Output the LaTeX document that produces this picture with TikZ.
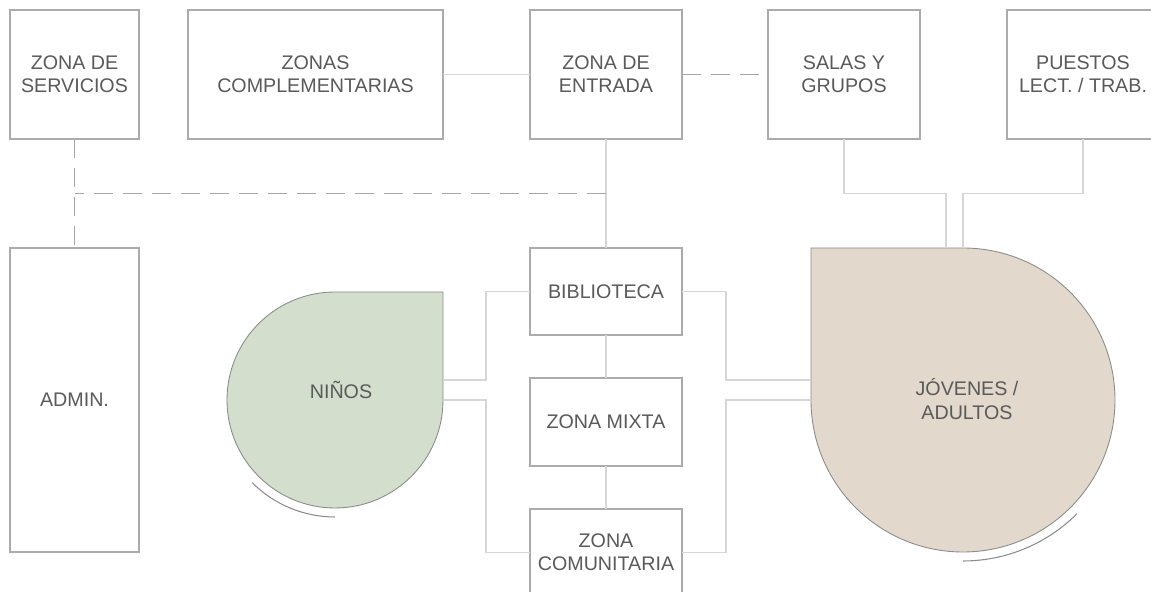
\documentclass[tikz,border=0pt]{standalone}
\usepackage{fontspec}
\setmainfont{Liberation Sans}
\usepackage{tikz}
\usetikzlibrary{positioning}
\definecolor{boxgray}{HTML}{ABABAB}
\definecolor{linkgray}{HTML}{D6D6D6}
\definecolor{dashgray}{HTML}{A6A6A6}
\definecolor{textgray}{HTML}{5A5A5A}
\definecolor{shapegray}{HTML}{8C8C8C}
\definecolor{ninosgreen}{HTML}{D3DECD}
\definecolor{jovenesbeige}{HTML}{E2D8CB}
\tikzset{
    zone/.style={draw=boxgray, line width=0.8pt, fill=white, outer sep=0pt, inner sep=0pt,
        align=center, text=textgray, font=\fontsize{11.2pt}{13.2pt}\selectfont},
    areatext/.style={align=center, text=textgray, font=\fontsize{11.2pt}{13.2pt}\selectfont},
    link/.style={draw=linkgray, line width=0.6pt},
    dlink/.style={draw=dashgray, line width=0.7pt, dash pattern=on 11pt off 5.5pt},
    area/.style={draw=shapegray, line width=0.5pt},
    rim/.style={draw=shapegray, line width=0.6pt}
}
\begin{document}
\begin{tikzpicture}[]
    \useasboundingbox (0,0) rectangle (23.02,11.84);
    \node[zone, minimum width=2.58cm, minimum height=2.58cm] at (1.49,10.35) (servicios) {ZONA DE\\SERVICIOS};
    \node[zone, minimum width=5.10cm, minimum height=2.58cm] at (6.31,10.35) (complem) {ZONAS\\COMPLEMENTARIAS};
    \node[zone, minimum width=3.04cm, minimum height=2.58cm] at (12.12,10.35) (entrada) {ZONA DE\\ENTRADA};
    \node[zone, minimum width=3.04cm, minimum height=2.58cm] at (16.88,10.35) (salas) {SALAS Y\\GRUPOS};
    \node[zone, minimum width=3.04cm, minimum height=2.58cm] at (21.66,10.35) (puestos) {PUESTOS\\LECT. / TRAB.};
    \node[zone, minimum width=2.58cm, minimum height=6.08cm] at (1.49,3.84) (admin) {ADMIN.};
    \node[zone, minimum width=3.04cm, minimum height=1.74cm] at (12.12,6.01) (biblio) {BIBLIOTECA};
    \node[zone, minimum width=3.04cm, minimum height=1.76cm] at (12.12,3.40) (mixta) {ZONA MIXTA};
    \node[zone, minimum width=3.04cm, minimum height=1.74cm] at (12.12,0.79) (comun) {ZONA\\COMUNITARIA};

    \coordinate (ninos) at (6.70,3.84);
    \coordinate (jovenes) at (19.26,3.84);
    \path[area, fill=ninosgreen] (6.70,6.00) -- (8.86,6.00) -- (8.86,3.84)
        arc[start angle=0, end angle=-270, radius=2.16] -- cycle;
    \path[area, fill=jovenesbeige] (16.22,3.84) -- (16.22,6.88) -- (19.26,6.88)
        arc[start angle=90, end angle=-180, radius=3.04] -- cycle;
    \draw[rim] (ninos) ++(225:2.34) arc[start angle=225, end angle=270, radius=2.34];
    \draw[rim] (jovenes) ++(270:3.22) arc[start angle=270, end angle=315, radius=3.22];
    \node[areatext] at (6.82,4.04) (ninostxt) {NIÑOS};
    \node[areatext] at (19.34,3.86) (jovenestxt) {JÓVENES /\\ADULTOS};

    \coordinate (ninos-a) at (8.86,4.24);
    \coordinate (ninos-b) at (8.86,3.84);
    \coordinate (jov-a) at (16.22,4.24);
    \coordinate (jov-b) at (16.22,3.84);
    \coordinate (jov-c) at (18.92,6.88);
    \coordinate (jov-d) at (19.26,6.88);
    \coordinate (hub) at (12.12,7.97);

    \path[link]
    (complem.east) edge (entrada.west)
    (entrada.south) edge (biblio.north)
    (biblio.south) edge (mixta.north)
    (mixta.south) edge (comun.north)
    ;
    \draw[link] (biblio.west) -- ++(-0.88,0) |- (ninos-a);
    \draw[link] (comun.west) -- ++(-0.88,0) |- (ninos-b);
    \draw[link] (biblio.east) -- ++(0.88,0) |- (jov-a);
    \draw[link] (comun.east) -- ++(0.88,0) |- (jov-b);
    \draw[link] (salas.south) -- ++(0,-1.09) -| (jov-c);
    \draw[link] (puestos.south) -- ++(0,-1.09) -| (jov-d);

    \draw[dlink] (entrada.east) -- (salas.west);
    \draw[dlink] (servicios.south) -- (admin.north);
    \draw[dlink] (hub) -- (hub -| servicios.south);
\end{tikzpicture}
\end{document}
